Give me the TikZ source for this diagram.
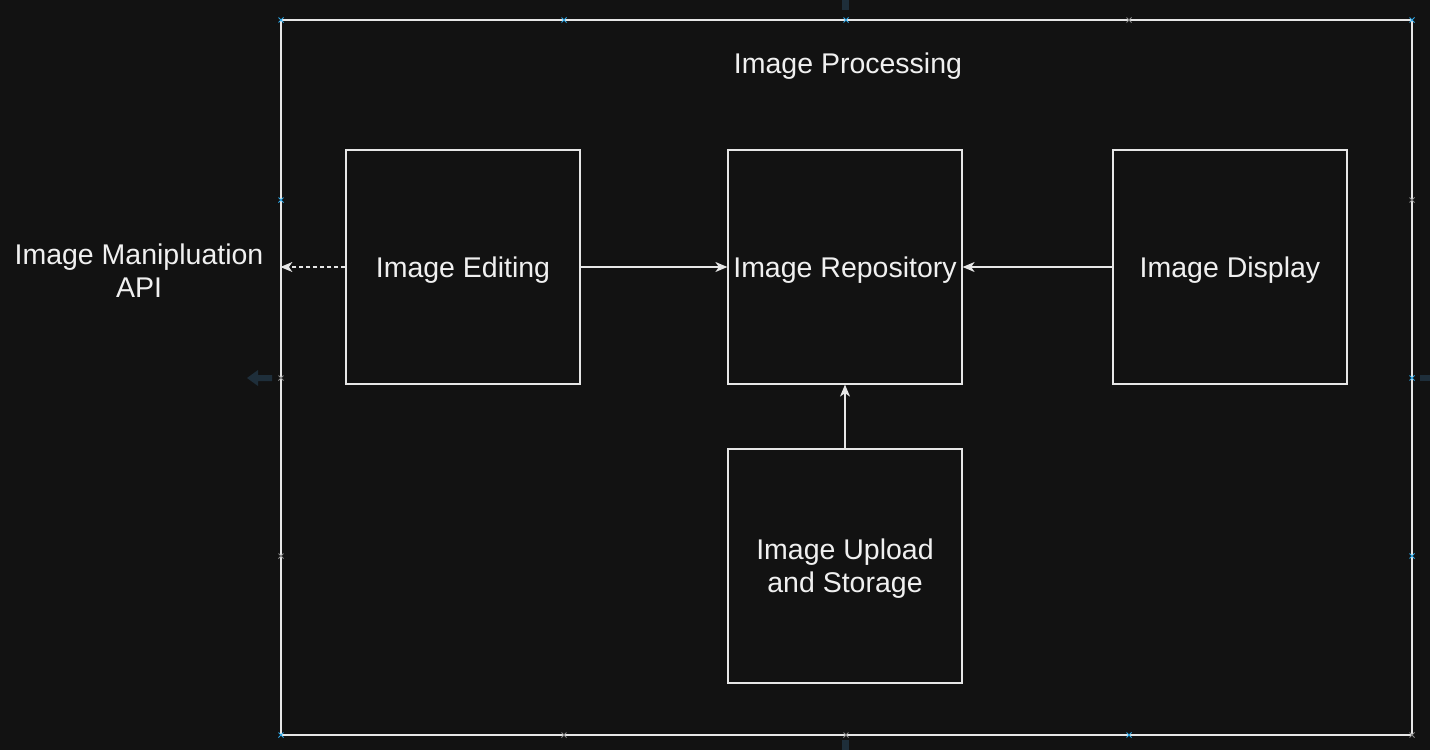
\documentclass[tikz,border=0pt]{standalone}
\usepackage{fontspec}
\setmainfont{Liberation Sans}
\usetikzlibrary{arrows.meta,shapes.misc}
\definecolor{bg}{HTML}{121212}
\definecolor{ln}{HTML}{E6E6E6}
\definecolor{tx}{HTML}{F0F0F0}
\definecolor{hblue}{HTML}{2EA8E8}
\definecolor{hgrey}{HTML}{8A8A8A}
\definecolor{ghost}{HTML}{1E2E3A}
\tikzset{
  box/.style={draw=ln, line width=1.2pt, minimum width=234pt, minimum height=234pt, inner sep=0pt, text=tx, align=center, text depth=0pt, font=\fontsize{28.5}{33}\selectfont},
  lbl/.style={text=tx, align=center, text depth=0pt, font=\fontsize{28.5}{33}\selectfont, inner sep=0pt},
  conn/.style={draw=ln, line width=1.2pt, -{Stealth[length=12pt,width=10pt,inset=3.5pt]}},
  dconn/.style={conn, dash pattern=on 4pt off 3pt},
  hb/.style={cross out, draw=hblue, line width=1pt, minimum size=4pt, inner sep=0pt},
  hg/.style={cross out, draw=hgrey, line width=1pt, minimum size=4pt, inner sep=0pt},
}
\begin{document}
\begin{tikzpicture}[x=1pt,y=-1pt]
\fill[bg] (0,0) rectangle (1430,750);
\useasboundingbox (0,0) rectangle (1430,750);
% ghost UI arrows
\fill[ghost] (842,0) rectangle (849,10);
\fill[ghost] (842,740) rectangle (849,750);
\fill[ghost] (1420,375) rectangle (1430,381);
\fill[ghost] (247,378) -- (258,370) -- (258,375) -- (272,375) -- (272,381) -- (258,381) -- (258,386) -- cycle;
% container
\node[draw=ln, line width=1.2pt, minimum width=1131pt, minimum height=715pt, inner sep=0pt] (proc) at (846.5,377.5) {};
\node[lbl] (title) at (848,63) {Image Processing};
\node[box] (ed) at (463,267) {Image Editing};
\node[box] (rep) at (845,267) {Image Repository};
\node[box] (disp) at (1230,267) {Image Display};
\node[box] (up) at (845,566) {Image Upload\\and Storage};
\node[lbl] (api) at (139,271) {Image Manipluation\\API};
% connectors
\draw[conn] (ed) -- (rep);
\draw[conn] (disp) -- (rep);
\draw[conn] (up) -- (rep);
\draw[dconn] (ed.west) -- (ed.west -| proc.west);
% selection handles
\node[hb] (h1) at (281,20) {};
\node[hb] (h2) at (564,20) {};
\node[hb] (h3) at (846,20) {};
\node[hg] (h4) at (1129,20) {};
\node[hb] (h5) at (1412,20) {};
\node[hb] (h6) at (281,200) {};
\node[hg] (h7) at (281,378) {};
\node[hg] (h8) at (281,556) {};
\node[hg] (h9) at (1412,200) {};
\node[hb] (h10) at (1412,378) {};
\node[hb] (h11) at (1412,556) {};
\node[hb] (h12) at (281,735) {};
\node[hg] (h13) at (564,735) {};
\node[hg] (h14) at (846,735) {};
\node[hb] (h15) at (1129,735) {};
\node[hg] (h16) at (1412,735) {};
\end{tikzpicture}
\end{document}
